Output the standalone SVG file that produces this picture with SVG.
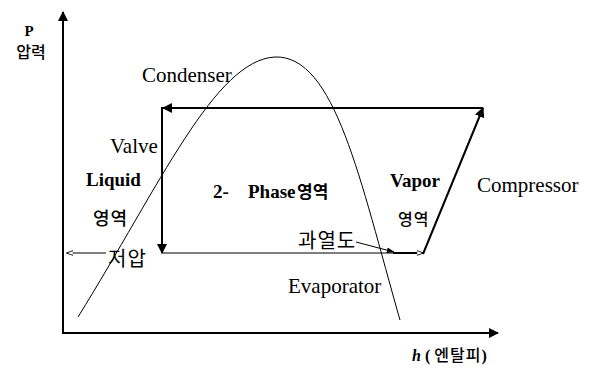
<svg xmlns="http://www.w3.org/2000/svg" width="594" height="369" viewBox="0 0 594 369">
<defs>
<style>
.en{font-family:"Liberation Serif","Times New Roman",serif;fill:#000}
.b{font-weight:bold}
.ko{font-family:"Noto Sans CJK KR","Noto Sans",sans-serif;fill:#000}
.thick{stroke:#000;stroke-width:2;fill:none}
.thin{stroke:#000;stroke-width:1;fill:none}
</style>
<marker id="ah" viewBox="0 0 10 10" refX="9" refY="5" markerWidth="5" markerHeight="5" orient="auto" markerUnits="strokeWidth">
<path d="M0,0 L10,5 L0,10 Z" fill="#000"/>
</marker>
<marker id="ahs" viewBox="0 0 10 10" refX="9" refY="5" markerWidth="7" markerHeight="7" orient="auto" markerUnits="userSpaceOnUse">
<path d="M0,1.5 L10,5 L0,8.5 Z" fill="#fff" stroke="#000" stroke-width="1.2"/>
</marker>
<marker id="ahf" viewBox="0 0 10 10" refX="9" refY="5" markerWidth="8" markerHeight="8" orient="auto" markerUnits="strokeWidth">
<path d="M0,1.5 L10,5 L0,8.5 Z" fill="#000"/>
</marker>
</defs>
<rect width="594" height="369" fill="#fff"/>

<g id="axes">
<line class="thick" x1="63" y1="334" x2="63" y2="12" marker-end="url(#ah)"/>
<line class="thick" x1="62" y1="333" x2="498" y2="333" marker-end="url(#ah)"/>
<text class="en b" x="29" y="36" font-size="15" text-anchor="middle">P</text>
<text class="ko" x="31" y="58" font-size="16" text-anchor="middle" font-weight="500">압력</text>
<text x="412" y="361" font-size="16"><tspan class="en b" font-style="italic">h</tspan><tspan class="en b"> ( </tspan><tspan class="ko" font-weight="500" letter-spacing="1">엔탈피</tspan><tspan class="en b">)</tspan></text>
</g>

<g id="dome">
<path class="thin" d="M78,317 C160,185 215,60 275,57 C335,55 360,180 400,320"/>
</g>

<g id="connectors">
<line class="thick" x1="483" y1="108" x2="163" y2="108" marker-end="url(#ah)"/>
<line class="thick" x1="162" y1="107" x2="162" y2="253" marker-end="url(#ah)"/>
<line class="thin" x1="162" y1="253" x2="395" y2="253"/>
<line class="thick" x1="393" y1="253" x2="423" y2="253" marker-end="url(#ahs)"/>
<line class="thick" x1="423" y1="254" x2="483" y2="108" marker-end="url(#ah)"/>
<line class="thin" x1="106" y1="253" x2="67" y2="253" marker-end="url(#ahs)"/>
<line class="thin" x1="356" y1="242" x2="394" y2="252" marker-end="url(#ahf)"/>
</g>

<g id="condenser"><text class="en" x="142" y="82" font-size="21">Condenser</text></g>
<g id="valve"><text class="en" x="110" y="153" font-size="21">Valve</text></g>
<g id="liquid">
<text class="en b" x="86" y="186" font-size="19">Liquid</text>
<text class="ko" x="93" y="225" font-size="18" font-weight="500" letter-spacing="1">영역</text>
</g>
<g id="phase">
<text x="213" y="198" font-size="19"><tspan class="en b">2-</tspan><tspan class="en b" x="248">Phase</tspan><tspan class="ko" x="297" font-size="17" font-weight="bold">영역</tspan></text>
</g>
<g id="vapor">
<text class="en b" x="390" y="187" font-size="19">Vapor</text>
<text class="ko" x="398" y="225" font-size="16" font-weight="500" letter-spacing="1">영역</text>
</g>
<g id="compressor"><text class="en" x="477" y="192" font-size="21">Compressor</text></g>
<g id="low"><text class="ko" x="108" y="266" font-size="20" letter-spacing="1">저압</text></g>
<g id="superheat"><text class="ko" x="298" y="248" font-size="20" letter-spacing="1">과열도</text></g>
<g id="evaporator"><text class="en" x="288" y="293" font-size="21">Evaporator</text></g>
</svg>
